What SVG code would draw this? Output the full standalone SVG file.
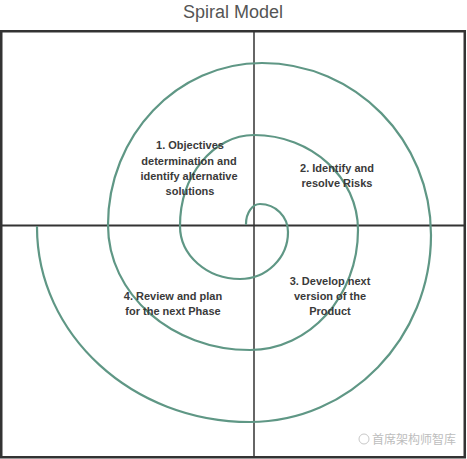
<svg xmlns="http://www.w3.org/2000/svg" width="467" height="459" viewBox="0 0 467 459">
<style>
.lbl{font-family:"Liberation Sans",Arial,sans-serif;font-size:11px;font-weight:bold;fill:#3a3a3a;text-anchor:middle}
.title{font-family:"Liberation Sans",Arial,sans-serif;font-size:18px;fill:#555;text-anchor:middle}
.axis{stroke:#333;fill:none}
.spiral{stroke:#5f9785;stroke-width:2.2;fill:none;stroke-linecap:round}
.wm{font-family:"Liberation Sans","Noto Sans CJK SC",sans-serif;font-size:12px;fill:#bdbdbd}
</style>
<rect width="467" height="459" fill="#fff"/>
<text id="title" class="title" x="233" y="18">Spiral Model</text>
<g id="frame">
<rect x="1.25" y="31.25" width="463.5" height="426" class="axis" stroke-width="2.5"/>
<line x1="254" y1="31" x2="254" y2="457" class="axis" stroke-width="1.5"/>
<line x1="1" y1="225.5" x2="465" y2="225.5" class="axis" stroke-width="2.2"/>
</g>
<g id="connectors">
<path class="spiral" d="M246,224 C246,213 252.3,204 260,204 C275.5,204 288,216.5 288,232 C288,258 266.5,279 240,279 C206.9,279 180,255.3 180,226 C180,175.8 213.2,135 254,135 C311.4,135 358,177.6 358,230 C358,296.2 309.6,350 250,350 C171.6,350 108,294 108,225 C108,135.6 177,63 262,63 C355.3,63 431,140 431,235 C431,338.2 349.9,422 250,422 C132.4,422 37,334.6 37,227"/>
</g>
<g id="node1">
<text class="lbl" x="190" y="149">1. Objectives</text>
<text class="lbl" x="189" y="165">determination and</text>
<text class="lbl" x="189" y="180">identify alternative</text>
<text class="lbl" x="190" y="195">solutions</text>
</g>
<g id="node2">
<text class="lbl" x="337" y="172">2. Identify and</text>
<text class="lbl" x="337" y="187">resolve Risks</text>
</g>
<g id="node3">
<text class="lbl" x="330" y="285">3. Develop next</text>
<text class="lbl" x="330" y="300">version of the</text>
<text class="lbl" x="330" y="315">Product</text>
</g>
<g id="node4">
<text class="lbl" x="173" y="300">4. Review and plan</text>
<text class="lbl" x="173" y="315">for the next Phase</text>
</g>
<g id="watermark">
<circle cx="364" cy="439" r="5" fill="none" stroke="#c8c8c8" stroke-width="1"/>
<text class="wm" x="372" y="444">首席架构师智库</text>
</g>
</svg>
